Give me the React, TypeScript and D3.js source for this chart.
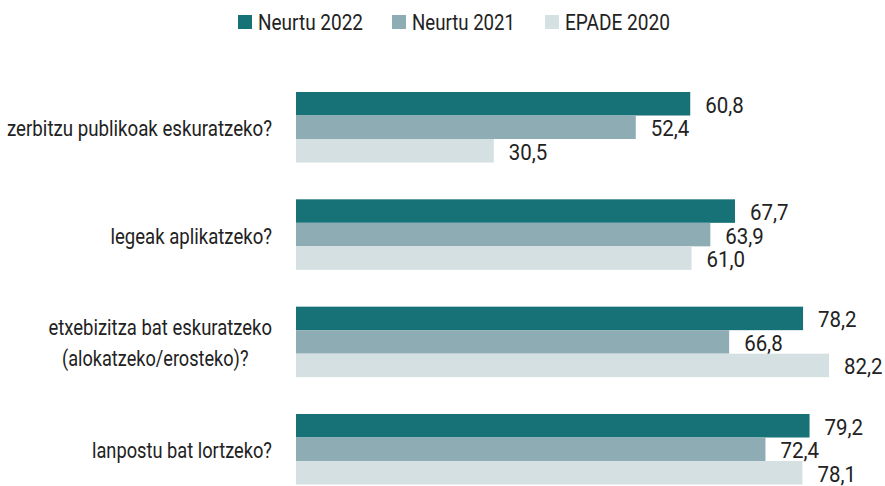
import React from "react";
import * as d3 from "d3";

const categories = [
  ["zerbitzu publikoak eskuratzeko?"],
  ["legeak aplikatzeko?"],
  ["etxebizitza bat eskuratzeko", "(alokatzeko/erosteko)?"],
  ["lanpostu bat lortzeko?"],
];
const seriesNames = ["Neurtu 2022", "Neurtu 2021", "EPADE 2020"];
const neurtu2022 = [60.8, 67.7, 78.2, 79.2];
const neurtu2021 = [52.4, 63.9, 66.8, 72.4];
const epade2020 = [30.5, 61.0, 82.2, 78.1];
const seriesValues = [neurtu2022, neurtu2021, epade2020];
const colors = ["#167276", "#8eacb4", "#d4e0e1"];

// measured text widths (px) for the condensed look
const categoryLineWidths = [[265], [161.5], [223.5, 186.5], [180]];
const legendWidths = [105, 103, 105];

const W = 885;
const H = 486;
const FONT = "Roboto, 'Liberation Sans', sans-serif";

export default function App() {
  const x = d3.scaleLinear().domain([0, 82.2]).range([296, 829]);
  const y = d3
    .scaleBand<number>()
    .domain(d3.range(categories.length))
    .range([92, 484.5])
    .paddingInner(0.343)
    .paddingOuter(0);
  const yi = d3
    .scaleBand<number>()
    .domain(d3.range(seriesNames.length))
    .range([0, y.bandwidth()])
    .padding(0);
  const fmt = (v: number) => v.toFixed(1).replace(".", ",");

  const legendX = [238, 392, 545];
  const labelRight = 272;

  return (
    <svg
      width={W}
      height={H}
      style={{ position: "absolute", left: 0, top: 0, background: "#fff" }}
      fontFamily={FONT}
    >
      {seriesNames.map((s, i) => (
        <g key={s} transform={`translate(${legendX[i]},15)`}>
          <rect width={14} height={14} fill={colors[i]} />
          <text
            x={20}
            y={15}
            fontSize={22}
            fill="#222"
            textLength={legendWidths[i]}
            lengthAdjust="spacingAndGlyphs"
          >
            {s}
          </text>
        </g>
      ))}
      {categories.map((lines, ci) => {
        const y0 = y(ci)!;
        const cy = y0 + y.bandwidth() / 2;
        const lh = 31;
        const startY = cy - ((lines.length - 1) * lh) / 2 + 9;
        return (
          <g key={ci}>
            {lines.map((ln, li) => {
              const w = categoryLineWidths[ci][li];
              const first = categoryLineWidths[ci][0];
              const cx = labelRight - first / 2 - (li > 0 ? 5 : 0);
              return (
                <text
                  key={li}
                  x={li === 0 ? labelRight : cx}
                  y={startY + li * lh}
                  textAnchor={li === 0 ? "end" : "middle"}
                  fontSize={22}
                  fill="#222"
                  textLength={w}
                  lengthAdjust="spacingAndGlyphs"
                >
                  {ln}
                </text>
              );
            })}
            {seriesValues.map((vals, si) => {
              const by = y0 + yi(si)!;
              const v = vals[ci];
              return (
                <g key={si}>
                  <rect
                    x={x(0)}
                    y={by}
                    width={x(v) - x(0)}
                    height={yi.bandwidth()}
                    fill={colors[si]}
                  />
                  <text
                    x={x(v) + 15}
                    y={by + yi.bandwidth() / 2 + 9}
                    fontSize={22}
                    fill="#222"
                    textLength={38.5}
                    lengthAdjust="spacingAndGlyphs"
                  >
                    {fmt(v)}
                  </text>
                </g>
              );
            })}
          </g>
        );
      })}
    </svg>
  );
}
